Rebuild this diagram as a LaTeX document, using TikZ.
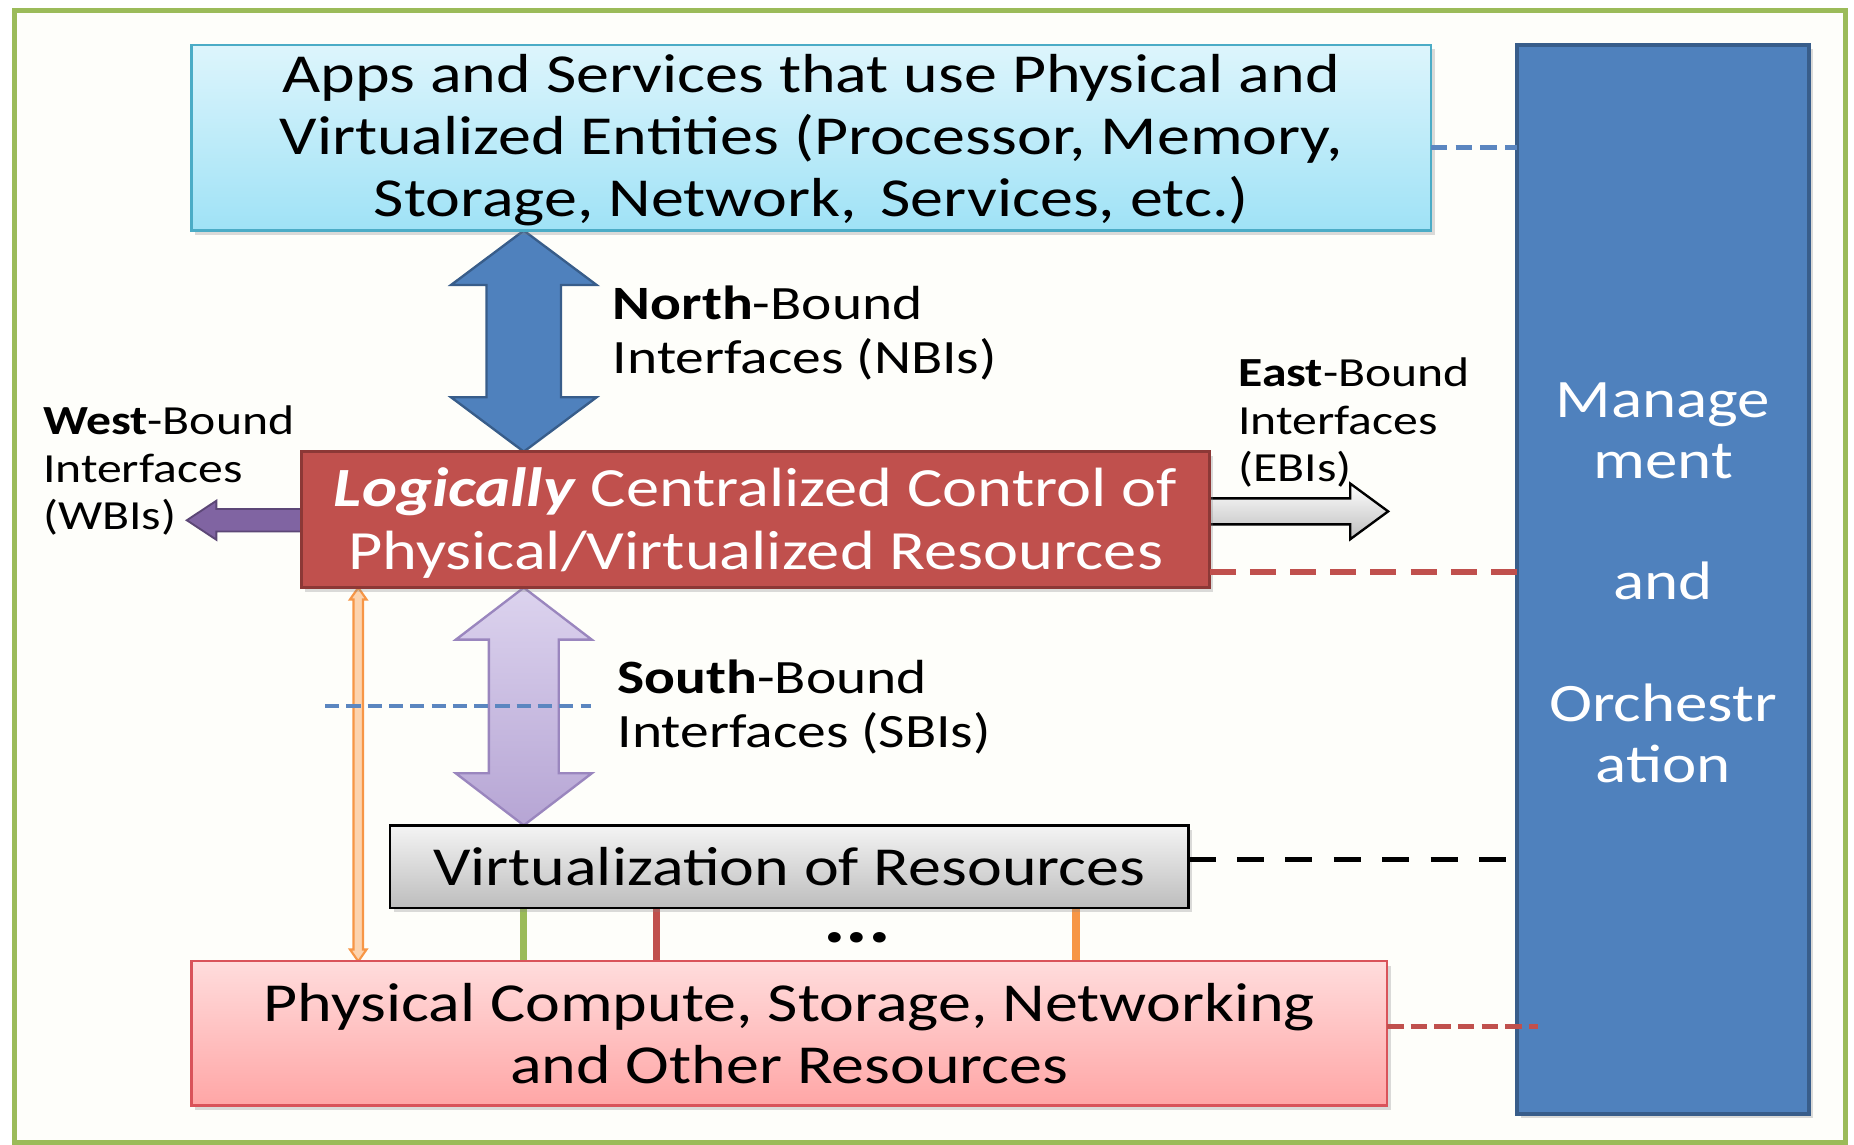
\documentclass[tikz,border=0pt]{standalone}
\usepackage{fontspec}
\setmainfont{Carlito}[FakeStretch=1.2]
\usetikzlibrary{calc,shadows}
\definecolor{frameg}{HTML}{9BBB59}
\definecolor{appsTop}{HTML}{DDF5FC}
\definecolor{appsBot}{HTML}{9FE2F6}
\definecolor{appsLine}{HTML}{4BACC6}
\definecolor{mgmtFill}{HTML}{4F81BD}
\definecolor{mgmtLine}{HTML}{385D8A}
\definecolor{logicFill}{HTML}{C0504D}
\definecolor{logicLine}{HTML}{8C3836}
\definecolor{purp}{HTML}{8064A2}
\definecolor{purpLine}{HTML}{5C4776}
\definecolor{lavTop}{HTML}{DCD3EE}
\definecolor{lavBot}{HTML}{B6A5D4}
\definecolor{lavLine}{HTML}{9A86BE}
\definecolor{physTop}{HTML}{FFDCDC}
\definecolor{physBot}{HTML}{FFA6A6}
\definecolor{physLine}{HTML}{D9535A}
\definecolor{orng}{HTML}{F79646}
\definecolor{orngLight}{HTML}{FCD3AE}
\definecolor{dashblue}{HTML}{5B86C0}
\definecolor{grayTop}{HTML}{F4F4F4}
\definecolor{grayBot}{HTML}{BDBDBD}

\pgfdeclarelayer{back}
\pgfdeclarelayer{bg}
\pgfsetlayers{back,bg,main}

% vertical double block arrow: style, top, bottom, shaft half, head half, head length
\newcommand\vdblarrow[6]{%
  \draw[#1] (#2) -- ($(#2)+(#5,#6)$) -- ($(#2)+(#4,#6)$) -- ($(#3)+(#4,-#6)$)
    -- ($(#3)+(#5,-#6)$) -- (#3) -- ($(#3)+(-#5,-#6)$) -- ($(#3)+(-#4,-#6)$)
    -- ($(#2)+(-#4,#6)$) -- ($(#2)+(-#5,#6)$) -- cycle;}

\begin{document}
\begin{tikzpicture}[x=0.5pt,y=-0.5pt,
  boxshadow/.style={drop shadow={opacity=0.28,shadow xshift=1.6pt,shadow yshift=-1.8pt}},
  mainfont/.style={font=\fontsize{23.25}{26.25}\selectfont},
  box/.style={rectangle,inner sep=0pt,outer sep=0pt,align=center,boxshadow},
  lblNS/.style={inner sep=0pt,align=left,anchor=west,font=\fontsize{20.25}{22.8}\selectfont},
  lblEW/.style={inner sep=0pt,align=left,anchor=west,font=\fontsize{17.5}{20.2}\selectfont},
  stub/.style={line width=3pt},
]
\useasboundingbox (0,0) rectangle (1568,968);
\begin{pgfonlayer}{back}
  \fill[white] (0,0) rectangle (1568,968);
  \draw[frameg,line width=2pt,fill={rgb,255:red,254;green,254;blue,250}] (12,9) rectangle (1561,966);
\end{pgfonlayer}

% boxes
\node[box,mainfont,top color=appsTop,bottom color=appsBot,draw=appsLine,line width=1pt,
      minimum width=524pt,minimum height=78.5pt] (apps) at (686,116.5)
  {\rule{0pt}{18.5pt}Apps and Services that use Physical and\\Virtualized Entities (Processor, Memory,\\Storage, Network,\, Services, etc.)};
\node[box,fill=mgmtFill,draw=mgmtLine,line width=1.5pt,text=white,
      font=\fontsize{22.9}{25.75}\selectfont,
      minimum width=123.5pt,minimum height=452pt] (mgmt) at (1406.5,490)
  {\rule{0pt}{17.5pt}Manage\\ment\\\mbox{}\\and\\\mbox{}\\Orchestr\\ation};
\node[box,fill=logicFill,draw=logicLine,line width=1.5pt,text=white,
      font=\fontsize{23.4}{26.5}\selectfont,
      minimum width=384pt,minimum height=57.5pt] (logic) at (639,439.5)
  {\rule{0pt}{19pt}\textbf{\textit{Logically}} Centralized Control of\\Physical/Virtualized Resources};
\node[box,mainfont,top color=grayTop,bottom color=grayBot,draw=black,line width=1pt,
      minimum width=337.5pt,minimum height=35pt] (virt) at (667.5,733)
  {Virtualization of Resources};
\node[box,mainfont,top color=physTop,bottom color=physBot,draw=physLine,line width=1pt,
      minimum width=505.5pt,minimum height=61pt] (phys) at (667.5,874)
  {Physical Compute, Storage, Networking\\and Other Resources};

% labels
\node[lblNS] (nlab) at (518,281.5) {\textbf{North}-Bound\\Interfaces (NBIs)};
\node[lblNS] (slab) at (522,598) {\textbf{South}-Bound\\Interfaces (SBIs)};
\node[lblEW] (wlab) at (36,398) {\textbf{West}-Bound\\Interfaces\\(WBIs)};
\node[lblEW] (elab) at (1047,357.5) {\textbf{East}-Bound\\Interfaces\\(EBIs)};
\node[font=\fontsize{30}{32}\selectfont\bfseries,inner sep=0pt,anchor=base] (dots) at (725,797) {...};

% helper coordinates
\coordinate (nx) at (443,0);
\coordinate (ox) at (303,0);
\coordinate (gx) at (443,0);
\coordinate (rx) at (555,0);
\coordinate (ox2) at (910,0);
\coordinate (wtip) at (158,440);
\coordinate (etip) at (1174,432.5);
\coordinate (sd1) at (275,597);
\coordinate (sd2) at (500,597);

\begin{pgfonlayer}{bg}
  % North-bound double arrow
  \vdblarrow{fill=mgmtFill,draw=mgmtLine,line width=1pt}{apps.south -| nx}{logic.north -| nx}{31.5}{61.5}{46}
  % South-bound double arrow
  \vdblarrow{top color=lavTop,bottom color=lavBot,draw=lavLine,line width=1pt}{logic.south -| nx}{virt.north -| nx}{29.5}{57.5}{44}
  % orange thin double arrow
  \vdblarrow{fill=orngLight,draw=orng,line width=0.9pt}{logic.south -| ox}{phys.north -| ox}{4}{7}{10}
  % West arrow
  \coordinate (ws) at ($(logic.west)+(6,0.5)$);
  \draw[fill=purp,draw=purpLine,line width=0.8pt]
    ($(ws)+(0,-9.5)$) -- ($(wtip)+(25,-9.5)$) -- ($(wtip)+(25,-16.5)$) -- (wtip)
    -- ($(wtip)+(25,16.5)$) -- ($(wtip)+(25,9.5)$) -- ($(ws)+(0,9.5)$) -- cycle;
  % East arrow
  \coordinate (es) at ($(logic.east)+(-6,-7)$);
  \draw[top color=white,bottom color=grayBot,draw=black,line width=1pt]
    ($(es)+(0,-11)$) -- ($(etip)+(-32,-11)$) -- ($(etip)+(-32,-23.5)$) -- (etip)
    -- ($(etip)+(-32,23.5)$) -- ($(etip)+(-32,11)$) -- ($(es)+(0,11)$) -- cycle;
  % stubs between virtualization and physical
  \draw[stub,frameg] (virt.south -| gx) -- (phys.north -| gx);
  \draw[stub,logicFill] (virt.south -| rx) -- (phys.north -| rx);
  \draw[stub,orng] (virt.south -| ox2) -- (phys.north -| ox2);
\end{pgfonlayer}

% dashed connectors to management
\coordinate (b1) at ($(apps.east)+(0,8.5)$);
\draw[dashblue,line width=2pt,dash pattern=on 7pt off 3.5pt] (b1) -- (b1 -| mgmt.west);
\coordinate (r1) at ($(logic.east)+(0,44.5)$);
\draw[logicFill,line width=2.5pt,dash pattern=on 11pt off 6pt] (r1) -- (r1 -| mgmt.west);
\coordinate (k1) at ($(virt.east)+(0,-6)$);
\draw[black,line width=2pt,dash pattern=on 11.5pt off 9pt] (k1) -- (k1 -| mgmt.west);
\coordinate (p1) at ($(phys.east)+(0,-6)$);
\coordinate (p2) at ($(p1 -| mgmt.west)+(18,0)$);
\draw[logicFill,line width=2pt,dash pattern=on 7pt off 3pt] (p1) -- (p2);
% blue dashed across the south-bound arrow
\draw[dashblue,line width=1.8pt,dash pattern=on 6pt off 3pt] (sd1) -- (sd2);
\end{tikzpicture}
\end{document}
